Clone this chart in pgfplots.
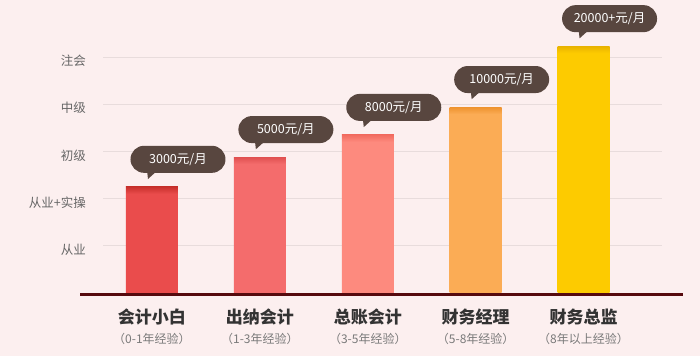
\documentclass[border=0pt]{standalone}
\usepackage{fontspec}
\setmainfont{Noto Sans CJK SC}
\usepackage{pgfplots}
\pgfplotsset{compat=1.18}
\usetikzlibrary{calc}

\definecolor{bg}{HTML}{FCEFEF}
\definecolor{gridc}{HTML}{E8DCDC}
\definecolor{bubble}{HTML}{58463F}
\definecolor{basec}{HTML}{560A0E}
\definecolor{ylab}{HTML}{666666}
\definecolor{xlab}{HTML}{333333}
\definecolor{sublab}{HTML}{7A7A7A}

\definecolor{cA}{HTML}{EA4C4C}\definecolor{cAt}{HTML}{C8302C}
\definecolor{cB}{HTML}{F46C6C}\definecolor{cBt}{HTML}{E05050}
\definecolor{cC}{HTML}{FD8A7E}\definecolor{cCt}{HTML}{F26C60}
\definecolor{cD}{HTML}{FBAC55}\definecolor{cDt}{HTML}{EE922E}
\definecolor{cE}{HTML}{FDCB00}\definecolor{cEt}{HTML}{E8B200}

\pgfdeclareverticalshading{shA}{100bp}{color(0bp)=(cA); color(71.7bp)=(cA); color(75bp)=(cAt); color(100bp)=(cAt)}
\pgfdeclareverticalshading{shB}{100bp}{color(0bp)=(cB); color(72.4bp)=(cB); color(75bp)=(cBt); color(100bp)=(cBt)}
\pgfdeclareverticalshading{shC}{100bp}{color(0bp)=(cC); color(72.8bp)=(cC); color(75bp)=(cCt); color(100bp)=(cCt)}
\pgfdeclareverticalshading{shD}{100bp}{color(0bp)=(cD); color(73.1bp)=(cD); color(75bp)=(cDt); color(100bp)=(cDt)}
\pgfdeclareverticalshading{shE}{100bp}{color(0bp)=(cE); color(73.6bp)=(cE); color(75bp)=(cEt); color(100bp)=(cEt)}

\makeatletter
\tikzset{noshade/.code={\tikz@addmode{\tikz@mode@shadefalse}}}
\makeatother

\tikzset{
  bub/.style={anchor=center, xshift=26bp, yshift=27.5bp,
    fill=bubble, text=white, rounded corners=13.5bp,
    minimum width=95bp, minimum height=27bp, inner sep=0pt,
    font=\fontsize{12.5bp}{14bp}\selectfont,
    append after command={\pgfextra{\fill[noshade, fill=bubble, draw=none, sharp corners]
      ($(\tikzlastnode.south)+(-31bp,3bp)$) --
      ($(\tikzlastnode.south)+(-20bp,3bp)$) --
      ($(\tikzlastnode.south)+(-30bp,-6bp)$) -- cycle;}}},
}

\begin{document}
\begin{tikzpicture}
\fill[bg] (0,0) rectangle (700bp,356bp);
\useasboundingbox (0,0) rectangle (700bp,356bp);
\begin{axis}[
  at={(103bp,63bp)}, anchor=south west,
  scale only axis, width=559bp, height=283.2bp,
  xmin=-0.454, xmax=4.727, ymin=0, ymax=6,
  axis line style={draw=none},
  major tick length=0pt,
  ytick={1,2,3,4,5},
  yticklabels={从业,从业+实操,初级,中级,注会},
  yticklabel style={font=\fontsize{12.5bp}{14bp}\selectfont, text=ylab, anchor=east, inner sep=0pt, xshift=-17bp, yshift=-4bp},
  ymajorgrids, grid style={draw=gridc, line width=0.8bp},
  xtick={0,1,2,3,4},
  xticklabels={
    {{\fontsize{17bp}{19bp}\selectfont\bfseries 会计小白}\\{\color{sublab}（0-1年经验）}},
    {{\fontsize{17bp}{19bp}\selectfont\bfseries 出纳会计}\\{\color{sublab}（1-3年经验）}},
    {{\fontsize{17bp}{19bp}\selectfont\bfseries 总账会计}\\{\color{sublab}（3-5年经验）}},
    {{\fontsize{17bp}{19bp}\selectfont\bfseries 财务经理}\\{\color{sublab}（5-8年经验）}},
    {{\fontsize{17bp}{19bp}\selectfont\bfseries 财务总监}\\{\color{sublab}（8年以上经验）}}},
  xticklabel style={align=center, anchor=north, inner sep=0pt, yshift=-16bp, text=xlab,
    font=\fontsize{12bp}{20bp}\selectfont},
  clip=false,
  point meta=explicit symbolic,
]
\addplot[ybar, bar width=52bp, bar shift=0pt, draw=none, shading=shA, shade,
  nodes near coords, every node near coord/.style={bub}]
  coordinates {(0,2.25) [3000元/月]};
\addplot[ybar, bar width=52bp, bar shift=0pt, draw=none, shading=shB, shade,
  nodes near coords, every node near coord/.style={bub}]
  coordinates {(1,2.88) [5000元/月]};
\addplot[ybar, bar width=52bp, bar shift=0pt, draw=none, shading=shC, shade,
  nodes near coords, every node near coord/.style={bub}]
  coordinates {(2,3.35) [8000元/月]};
\addplot[ybar, bar width=52bp, bar shift=0pt, draw=none, shading=shD, shade,
  nodes near coords, every node near coord/.style={bub}]
  coordinates {(3,3.94) [10000元/月]};
\addplot[ybar, bar width=52bp, bar shift=0pt, draw=none, shading=shE, shade,
  nodes near coords, every node near coord/.style={bub}]
  coordinates {(4,5.23) [20000+元/月]};
\end{axis}
\draw[basec, line width=3.6bp] (80bp,61.6bp) -- (683bp,61.6bp);
\end{tikzpicture}
\end{document}
